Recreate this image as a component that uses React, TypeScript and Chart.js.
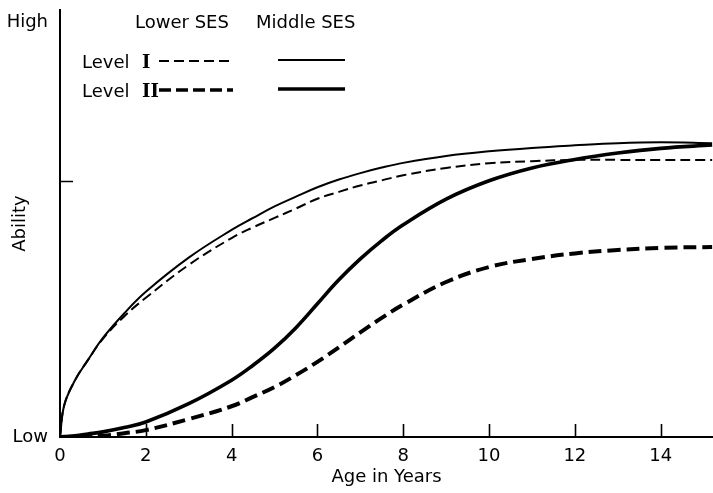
import React, { useEffect, useRef } from "react";
import { Chart, registerables } from "chart.js";

Chart.register(...registerables);

const ages = [0, 0.1, 0.35, 0.65, 1, 1.5, 2, 3, 4, 4.5, 5, 5.5, 6, 6.5, 7, 7.5, 8, 9, 10, 11, 12, 13, 14, 15.2];

// Ability (0 = Low ... ~97 = High)
const middleSesLevel1 = [0, 7.5, 13.3, 18.0, 23.2, 29.0, 34.0, 42.0, 48.5, 51.3, 54.0, 56.3, 58.5, 60.3, 61.8, 63.1, 64.2, 65.8, 66.9, 67.7, 68.3, 68.8, 69.0, 68.8];
const lowerSesLevel1 = [0, 7.5, 13.3, 18.0, 23.0, 28.3, 32.6, 40.3, 46.6, 49.1, 51.3, 53.5, 55.8, 57.4, 58.9, 60.1, 61.3, 63.0, 64.1, 64.6, 64.9, 64.9, 64.9, 64.9];
const middleSesLevel2 = [0, 0.1, 0.3, 0.7, 1.2, 2.2, 3.5, 7.8, 13.3, 16.8, 20.8, 25.6, 31.2, 36.8, 41.7, 46.0, 49.7, 55.7, 60.0, 63.0, 65.0, 66.5, 67.6, 68.4];
const lowerSesLevel2 = [0, 0, 0.05, 0.15, 0.3, 0.9, 1.6, 4.2, 7.2, 9.4, 11.7, 14.5, 17.6, 21.0, 24.5, 27.9, 31.0, 36.3, 39.8, 41.7, 43.0, 43.8, 44.3, 44.5];

const xTickValues = [0, 2, 4, 6, 8, 10, 12, 14];
const xTickMarks = [2, 4, 6, 8, 10, 12, 14];
const yTickValues = [0, 60, 97];
const yTickLabels = ["Low", "", "High"];
const yTickMarks = [60];
const xTitle = "Age in Years";
const yTitle = "Ability";
const legendColumns = ["Lower SES", "Middle SES"];
const legendRowWord = "Level";
const legendRowNumerals = ["I", "II"];

const FONT = "'DejaVu Sans', sans-serif";

const toPoints = (ys: number[]) => ages.map((a, i) => ({ x: a, y: ys[i] }));

const tickMarkPlugin = {
  id: "innerTicks",
  afterDraw(chart: any) {
    const { ctx } = chart;
    const xs = chart.scales.x;
    const ys = chart.scales.y;
    ctx.save();
    ctx.strokeStyle = "#000";
    ctx.lineWidth = 1.6;
    ctx.beginPath();
    for (const v of xTickMarks) {
      const px = Math.round(xs.getPixelForValue(v)) + 0.5;
      ctx.moveTo(px, ys.bottom);
      ctx.lineTo(px, ys.bottom - 13);
    }
    for (const v of yTickMarks) {
      const py = Math.round(ys.getPixelForValue(v)) + 0.5;
      ctx.moveTo(xs.left, py);
      ctx.lineTo(xs.left + 13, py);
    }
    ctx.stroke();
    ctx.restore();
  },
};

const legendPlugin = {
  id: "sesLegend",
  afterDraw(chart: any) {
    const { ctx } = chart;
    ctx.save();
    ctx.fillStyle = "#000";
    ctx.strokeStyle = "#000";
    ctx.textBaseline = "alphabetic";
    ctx.textAlign = "left";
    ctx.font = `18px ${FONT}`;
    ctx.fillText(legendColumns[0], 135, 28);
    ctx.fillText(legendColumns[1], 256, 28);

    const baselines = [68, 97];
    const lineYs = [61, 90];
    const widths = [2, 3.6];
    const dashes = [[10, 5], [12, 5]];
    legendRowNumerals.forEach((num, i) => {
      ctx.font = `18px ${FONT}`;
      ctx.fillText(legendRowWord, 82, baselines[i]);
      ctx.font = `bold 18px 'DejaVu Serif', serif`;
      ctx.fillText(num, 142, baselines[i]);
      ctx.lineWidth = widths[i];
      ctx.setLineDash(dashes[i]);
      ctx.beginPath();
      ctx.moveTo(159, lineYs[i]);
      ctx.lineTo(233, lineYs[i]);
      ctx.stroke();
      ctx.setLineDash([]);
      ctx.beginPath();
      ctx.moveTo(278, lineYs[i] - 1);
      ctx.lineTo(345, lineYs[i] - 1);
      ctx.stroke();
    });
    ctx.restore();
  },
};

export default function App() {
  const ref = useRef<HTMLCanvasElement>(null);

  useEffect(() => {
    if (!ref.current) return;
    Chart.defaults.font.family = FONT;
    Chart.defaults.color = "#000";
    const common = {
      borderColor: "#000",
      pointRadius: 0,
      tension: 0.4,
      fill: false,
    };
    const chart = new Chart(ref.current, {
      type: "line",
      data: {
        datasets: [
          { ...common, label: "Middle SES Level I", data: toPoints(middleSesLevel1), borderWidth: 2 },
          { ...common, label: "Lower SES Level I", data: toPoints(lowerSesLevel1), borderWidth: 2, borderDash: [10, 5] },
          { ...common, label: "Middle SES Level II", data: toPoints(middleSesLevel2), borderWidth: 3.6 },
          { ...common, label: "Lower SES Level II", data: toPoints(lowerSesLevel2), borderWidth: 4, borderDash: [13, 6] },
        ],
      },
      options: {
        responsive: false,
        animation: false,
        devicePixelRatio: 1,
        layout: { padding: { top: 10, right: 0, bottom: 0, left: 0 } },
        plugins: {
          legend: { display: false },
          tooltip: { enabled: false },
        },
        scales: {
          x: {
            type: "linear",
            min: 0,
            max: 15.22,
            afterBuildTicks: (s: any) => {
              s.ticks = xTickValues.map((v) => ({ value: v }));
            },
            afterFit: (s: any) => {
              s.height = 56;
              s.paddingLeft = 0;
              s.paddingRight = 0;
            },
            grid: { display: true, drawOnChartArea: false, drawTicks: false },
            border: { display: true, color: "#000", width: 2 },
            ticks: {
              color: "#000",
              font: { size: 18, family: FONT },
              padding: 9,
              maxRotation: 0,
              autoSkip: false,
            },
            title: {
              display: true,
              text: xTitle,
              color: "#000",
              font: { size: 18, family: FONT },
              padding: { top: 0, bottom: 5 },
            },
          },
          y: {
            type: "linear",
            min: 0,
            max: 100,
            afterBuildTicks: (s: any) => {
              s.ticks = yTickValues.map((v) => ({ value: v }));
            },
            afterFit: (s: any) => {
              s.width = 60;
              s.paddingTop = 0;
              s.paddingBottom = 0;
            },
            grid: { display: true, drawOnChartArea: false, drawTicks: false },
            border: { display: true, color: "#000", width: 2 },
            ticks: {
              color: "#000",
              font: { size: 18, family: FONT },
              padding: 12,
              autoSkip: false,
              callback: (_v: any, i: number) => yTickLabels[i],
            },
            title: {
              display: true,
              text: yTitle,
              color: "#000",
              font: { size: 18, family: FONT },
              padding: { top: 10, bottom: 0 },
            },
          },
        },
      },
      plugins: [tickMarkPlugin, legendPlugin],
    } as any);
    return () => chart.destroy();
  }, []);

  return (
    <div style={{ position: "absolute", left: 0, top: 0, width: 713, height: 493, background: "#fff" }}>
      <canvas ref={ref} width={713} height={493} style={{ display: "block", width: 713, height: 493 }} />
    </div>
  );
}
